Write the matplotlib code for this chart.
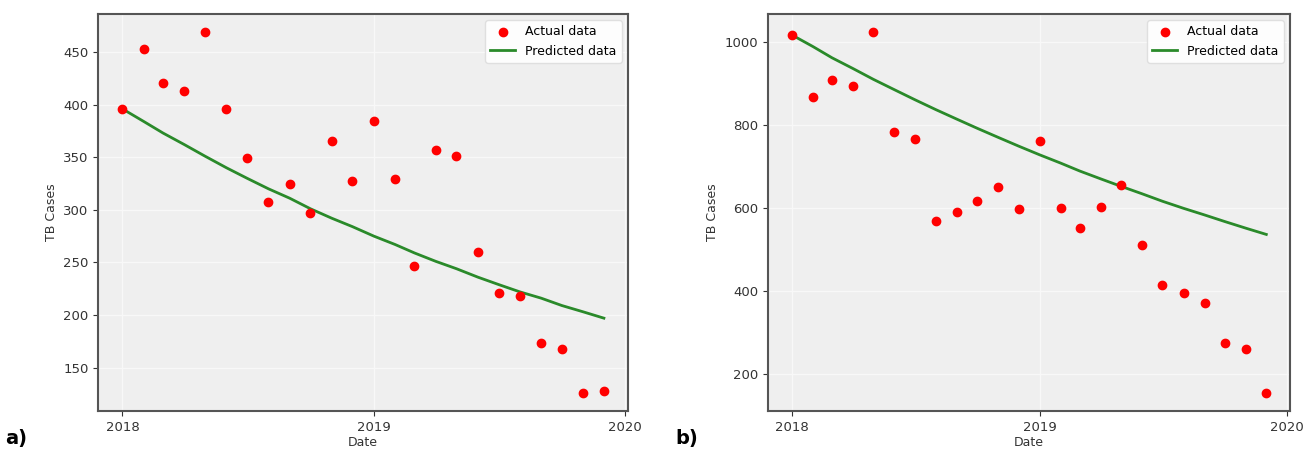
import datetime as dt
import matplotlib
matplotlib.use("Agg")
import matplotlib.pyplot as plt
import matplotlib.dates as mdates

plt.rcParams["font.family"] = "DejaVu Sans"

months = [dt.date(2018 + i // 12, i % 12 + 1, 1) for i in range(24)]

actual_a = [396, 453, 421, 413, 469, 396, 349, 307, 325, 297, 365, 327,
            384, 329, 247, 357, 351, 260, 221, 218, 173, 168, 126, 128]
pred_a = [396, 384, 373, 362, 351, 340, 330, 320, 311, 301, 292, 284,
          275, 267, 259, 251, 244, 236, 229, 222, 216, 209, 203, 197]

actual_b = [1018, 868, 910, 896, 1025, 783, 766, 569, 592, 617, 651, 598,
            763, 601, 552, 602, 656, 511, 415, 396, 371, 274, 261, 155]
pred_b = [1018, 990, 963, 937, 911, 886, 862, 838, 815, 793, 771, 750,
          729, 709, 690, 671, 653, 635, 617, 600, 584, 568, 552, 537]

panels = [("a)", actual_a, pred_a), ("b)", actual_b, pred_b)]
boxes = [[0.075, 0.093, 0.404, 0.876], [0.586, 0.093, 0.398, 0.876]]

fig = plt.figure(figsize=(13.11, 4.53), dpi=100)

for (tag, actual, pred), box in zip(panels, boxes):
    ax = fig.add_axes(box)
    ax.set_facecolor("#efefef")
    ax.grid(True, color="#f8f8f8", linewidth=0.9)
    ax.set_axisbelow(True)
    ax.scatter(months, actual, color="red", s=36, zorder=3, label="Actual data")
    ax.plot(months, pred, color="#2a8a2a", linewidth=2, zorder=2, label="Predicted data")
    ax.xaxis.set_major_locator(mdates.YearLocator())
    ax.xaxis.set_major_formatter(mdates.DateFormatter("%Y"))
    ax.set_xlabel("Date", fontsize=9, color="#333333", labelpad=2)
    ax.set_ylabel("TB Cases", fontsize=9, color="#333333")
    ax.tick_params(labelsize=9.5, colors="#333333")
    for s in ax.spines.values():
        s.set_color("#555555")
        s.set_linewidth(1.5)
    ax.legend(loc="upper right", fontsize=9, framealpha=0.9, edgecolor="#dddddd")
    fig.text(box[0] - 0.071, 0.01, tag, fontsize=14, fontweight="bold", ha="left", va="bottom")

fig.savefig("out.png", dpi=100)
